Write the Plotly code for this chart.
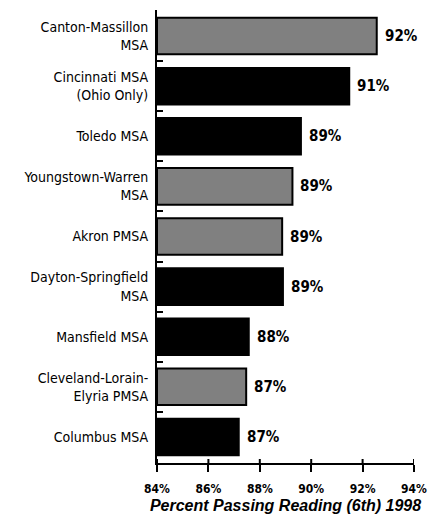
import plotly.graph_objects as go

# Reading pass rates, 6th grade, 1998 (top to bottom as in the chart)
areas = [
    "Canton-Massillon<br>MSA",
    "Cincinnati MSA<br>(Ohio Only)",
    "Toledo MSA",
    "Youngstown-Warren<br>MSA",
    "Akron PMSA",
    "Dayton-Springfield<br>MSA",
    "Mansfield MSA",
    "Cleveland-Lorain-<br>Elyria PMSA",
    "Columbus MSA",
]
pct = [92.55, 91.48, 89.6, 89.27, 88.87, 88.9, 87.57, 87.47, 87.18]
pct_labels = ["92%", "91%", "89%", "89%", "89%", "89%", "88%", "87%", "87%"]
bar_colors = ["#808080", "#000000", "#000000", "#808080", "#808080",
              "#000000", "#000000", "#808080", "#000000"]
x_ticks = [84, 86, 88, 90, 92, 94]
x_tick_labels = ["84%", "86%", "88%", "90%", "92%", "94%"]
x_start = 84

narrow = "Liberation Sans Narrow, DejaVu Sans Condensed, sans-serif"

fig = go.Figure(go.Bar(
    x=[v - x_start for v in pct],
    y=areas,
    orientation="h",
    base=x_start,
    marker=dict(color=bar_colors, line=dict(color="#000000", width=2)),
    hoverinfo="skip",
))

# value labels sit a little to the right of each bar end
for area, v, lab in zip(areas, pct, pct_labels):
    fig.add_annotation(
        x=v, y=area, text=f"<b>{lab}</b>",
        showarrow=False, xanchor="left", xshift=6,
        font=dict(family=narrow, size=15, color="#000000"),
    )

# the short stubs of the tick marks on the other side of each axis line
for i in range(len(areas) + 1):
    fig.add_shape(type="line", xref="x", yref="y",
                  xsizemode="pixel", xanchor=x_start, x0=-3, x1=0,
                  y0=i - 0.5, y1=i - 0.5,
                  line=dict(color="#000000", width=2))
for t in x_ticks:
    fig.add_shape(type="line", xref="x", yref="y domain",
                  ysizemode="pixel", yanchor=0, y0=0, y1=4,
                  x0=t, x1=t,
                  line=dict(color="#000000", width=2))

fig.update_layout(
    width=430,
    height=523,
    margin=dict(l=157, r=16, t=10, b=60),
    paper_bgcolor="white",
    plot_bgcolor="white",
    showlegend=False,
    bargap=0.27,
    font=dict(family=narrow, color="#000000"),
)

fig.update_xaxes(
    range=[84, 94],
    tickvals=x_ticks,
    ticktext=x_tick_labels,
    ticks="outside",
    ticklen=7,
    tickwidth=2,
    tickcolor="#000000",
    showline=True,
    linecolor="#000000",
    linewidth=2,
    showgrid=False,
    zeroline=False,
    automargin=False,
    tickfont=dict(family=narrow, size=12, weight="bold"),
    ticklabelstandoff=7,
    title=dict(
        text="<b><i>Percent Passing Reading (6th) 1998</i></b>",
        font=dict(family="Liberation Sans, Arial, sans-serif", size=16),
        standoff=4,
    ),
)

fig.update_yaxes(
    autorange="reversed",
    tickson="boundaries",
    ticks="inside",
    ticklen=6,
    tickwidth=2,
    tickcolor="#000000",
    showline=True,
    linecolor="#000000",
    linewidth=2,
    showgrid=False,
    automargin=False,
    tickfont=dict(family=narrow, size=14),
    ticklabelstandoff=4,
)

# drop the browser's default body margin so the figure fills the window
fig.write_html(
    "out.html",
    config={"displayModeBar": False},
    post_script="document.body.style.margin = '0px';",
)
